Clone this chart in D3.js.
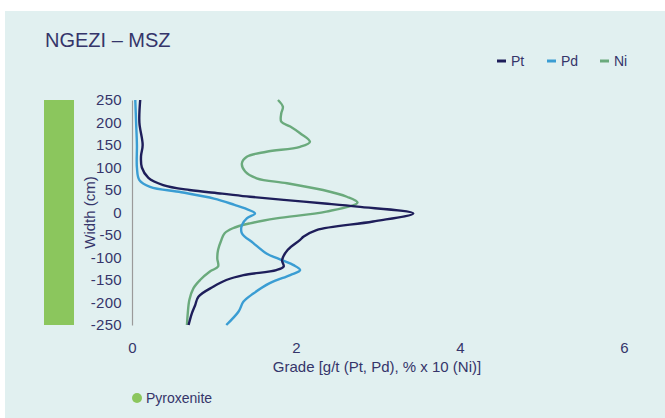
<!DOCTYPE html>
<html>
<head>
<meta charset="utf-8">
<script src="https://cdn.jsdelivr.net/npm/d3@7"></script>
<style>
  body { margin: 0; background: #fff; }
  svg text { font-family: "Liberation Sans", Arial, sans-serif; fill: #35356a; }
</style>
</head>
<body>
<svg id="chart" width="665" height="418"></svg>
<script>
// depth (cm) vs grade
const ptWidth = [250, 200, 150, 125, 100, 77, 61, 50, 42, 35, 28, 20, 13, -2, -20, -39, -54, -61, -83, -106, -120, -128, -139, -150, -165, -187, -206, -224, -250];
const ptGrade = [0.1, 0.09, 0.13, 0.11, 0.12, 0.2, 0.38, 0.7, 1.1, 1.44, 1.85, 2.35, 2.75, 3.43, 2.94, 2.25, 2.09, 2.05, 1.9, 1.83, 1.85, 1.76, 1.36, 1.15, 0.99, 0.81, 0.77, 0.73, 0.69];

const pdWidth = [250, 200, 150, 100, 72, 57, 45, 31, 17, 9, -2, -13, -28, -46, -68, -91, -106, -117, -128, -139, -157, -180, -198, -220, -250];
const pdGrade = [0.04, 0.05, 0.06, 0.06, 0.09, 0.22, 0.6, 1.0, 1.25, 1.38, 1.5, 1.4, 1.34, 1.34, 1.48, 1.64, 1.83, 1.97, 2.05, 1.93, 1.68, 1.48, 1.36, 1.3, 1.15];

const niWidth = [250, 235, 220, 202, 191, 176, 157, 146, 135, 124, 109, 91, 76, 65, 50, 35, 22, 2, -13, -24, -35, -46, -61, -83, -102, -120, -131, -150, -168, -194, -224, -250];
const niGrade = [1.78, 1.84, 1.82, 1.82, 1.93, 2.05, 2.17, 2.05, 1.64, 1.4, 1.34, 1.38, 1.52, 1.89, 2.33, 2.62, 2.75, 2.37, 1.76, 1.44, 1.23, 1.13, 1.09, 1.05, 1.04, 1.05, 0.95, 0.83, 0.75, 0.7, 0.68, 0.67];

const xTicks = [0, 2, 4, 6];
const yTicks = [250, 200, 150, 100, 50, 0, -50, -100, -150, -200, -250];

const seriesNames = ["Pt", "Pd", "Ni"];
const seriesColors = ["#1e1e5a", "#3a9dd3", "#6aaa7c"];

const svg = d3.select("#chart");

// panel background
svg.append("rect")
  .attr("x", 5).attr("y", 11)
  .attr("width", 660).attr("height", 407)
  .attr("fill", "#e1f0f0");

svg.append("text")
  .attr("x", 45).attr("y", 47)
  .attr("font-size", 20)
  .text("NGEZI \u2013 MSZ");

const x = d3.scaleLinear().domain([0, 6]).range([132, 624]);
const y = d3.scaleLinear().domain([-250, 250]).range([325, 100]);

// lithology bar (pyroxenite across full interval)
svg.append("rect")
  .attr("x", 44).attr("width", 30)
  .attr("y", y(250)).attr("height", y(-250) - y(250))
  .attr("fill", "#8bc65d");

// y axis
const yAxis = svg.append("g")
  .attr("transform", `translate(${x(0)},0)`)
  .call(d3.axisLeft(y).tickValues(yTicks).tickSize(0).tickPadding(10)
    .tickFormat(d => String(d)));
yAxis.select(".domain").attr("stroke", "#9a9a9a").attr("stroke-width", 1.2);
yAxis.selectAll("text")
  .attr("font-size", 15)
  .attr("letter-spacing", 0.3)
  .attr("font-family", "Liberation Sans, Arial, sans-serif")
  .attr("fill", "#35356a");

svg.append("text")
  .attr("transform", `translate(95,${y(0)}) rotate(-90)`)
  .attr("text-anchor", "middle")
  .attr("font-size", 15)
  .text("Width (cm)");

// x axis (labels only)
const xAxis = svg.append("g")
  .attr("transform", `translate(0,${y(-250)})`)
  .call(d3.axisBottom(x).tickValues(xTicks).tickSize(0).tickPadding(17)
    .tickFormat(d => String(d)));
xAxis.select(".domain").remove();
xAxis.selectAll("text")
  .attr("font-size", 15)
  .attr("font-family", "Liberation Sans, Arial, sans-serif")
  .attr("fill", "#35356a");

svg.append("text")
  .attr("x", 377).attr("y", 372)
  .attr("text-anchor", "middle")
  .attr("font-size", 15)
  .text("Grade [g/t (Pt, Pd), % x 10 (Ni)]");

// series lines
const seriesData = [
  ptWidth.map((w, i) => ({ w, g: ptGrade[i] })),
  pdWidth.map((w, i) => ({ w, g: pdGrade[i] })),
  niWidth.map((w, i) => ({ w, g: niGrade[i] }))
];

const line = d3.line()
  .x(d => x(d.g))
  .y(d => y(d.w))
  .curve(d3.curveCatmullRom.alpha(0.5));

// draw Ni first, then Pd, then Pt on top
[2, 1, 0].forEach(i => {
  svg.append("path")
    .datum(seriesData[i])
    .attr("d", line)
    .attr("fill", "none")
    .attr("stroke", seriesColors[i])
    .attr("stroke-width", 2.4)
    .attr("stroke-linejoin", "round");
});

// series legend
const legX = [497, 547, 600];
const legend = svg.append("g");
seriesNames.forEach((n, i) => {
  legend.append("line")
    .attr("x1", legX[i]).attr("x2", legX[i] + 9)
    .attr("y1", 61).attr("y2", 61)
    .attr("stroke", seriesColors[i])
    .attr("stroke-width", 3);
  legend.append("text")
    .attr("x", legX[i] + 14).attr("y", 66)
    .attr("font-size", 14)
    .text(n);
});

// lithology legend
svg.append("circle")
  .attr("cx", 137).attr("cy", 398).attr("r", 5)
  .attr("fill", "#8bc65d");
svg.append("text")
  .attr("x", 146).attr("y", 403)
  .attr("font-size", 14)
  .text("Pyroxenite");
</script>
</body>
</html>
